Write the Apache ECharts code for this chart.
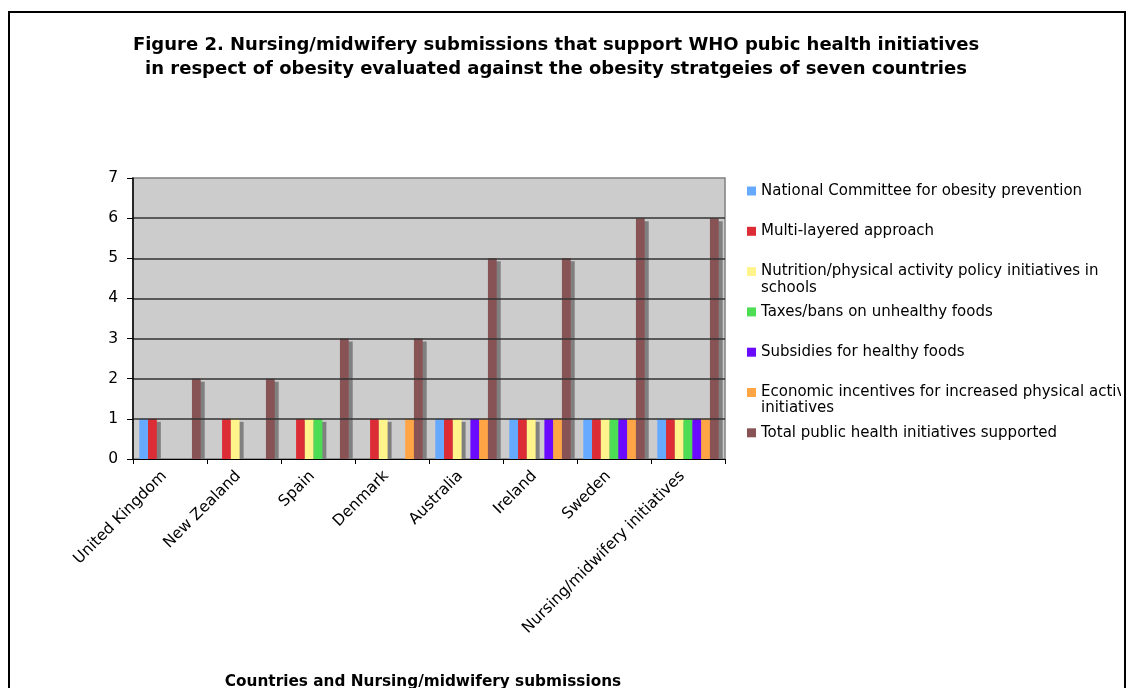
<!DOCTYPE html>
<html>
<head>
<meta charset="utf-8">
<script src="https://cdn.jsdelivr.net/npm/echarts@6/dist/echarts.min.js"></script>
<style>
  html, body { margin: 0; padding: 0; background: #ffffff; }
  #chart { width: 1127px; height: 688px; }
</style>
</head>
<body>
<div id="chart"></div>
<script>
// Categories along the x axis
const categories = ['United Kingdom', 'New Zealand', 'Spain', 'Denmark', 'Australia', 'Ireland', 'Sweden', 'Nursing/midwifery initiatives'];

// One array per strategy element (1 = present, 0 = absent)
const nationalCommittee  = [1, 0, 0, 0, 1, 1, 1, 1];
const multiLayered       = [1, 1, 1, 1, 1, 1, 1, 1];
const schoolPolicy       = [0, 1, 1, 1, 1, 1, 1, 1];
const taxesBans          = [0, 0, 1, 0, 0, 0, 1, 1];
const subsidies          = [0, 0, 0, 0, 1, 1, 1, 1];
const economicIncentives = [0, 0, 0, 1, 1, 1, 1, 1];
const totalSupported     = [2, 2, 3, 3, 5, 5, 6, 6];

const seriesNames = [
  'National Committee for obesity prevention',
  'Multi-layered approach',
  'Nutrition/physical activity policy initiatives in schools',
  'Taxes/bans on unhealthy foods',
  'Subsidies for healthy foods',
  'Economic incentives for increased physical activity initiatives',
  'Total public health initiatives supported'
];
// First legend line for the names that wrap onto a second line
const legendFirstLine = {
  'Nutrition/physical activity policy initiatives in schools': 'Nutrition/physical activity policy initiatives in',
  'Economic incentives for increased physical activity initiatives': 'Economic incentives for increased physical activity'
};
const seriesData = [nationalCommittee, multiLayered, schoolPolicy, taxesBans, subsidies, economicIncentives, totalSupported];
const seriesColors = ['#66AAFF', '#DC2D37', '#FFF38C', '#4CDD55', '#6A0AFF', '#FFA545', '#885355'];

const yTicks = [0, 1, 2, 3, 4, 5, 6, 7];

const FONT = '"DejaVu Sans", Verdana, sans-serif';

const chart = echarts.init(document.getElementById('chart'), null, { renderer: 'canvas' });

const series = seriesNames.map((name, i) => ({
  name: name,
  type: 'bar',
  data: seriesData[i],
  barGap: '0%',
  barCategoryGap: '17%',
  itemStyle: {
    color: seriesColors[i],
    shadowColor: '#808080',
    shadowBlur: 0,
    shadowOffsetX: 4,
    shadowOffsetY: 3
  },
  emphasis: { disabled: true }
}));

const option = {
  animation: false,
  backgroundColor: '#ffffff',
  textStyle: { fontFamily: FONT },
  title: [
    {
      text: 'Figure 2. Nursing/midwifery submissions that support WHO pubic health initiatives\nin respect of obesity evaluated against the obesity stratgeies of seven countries',
      left: 551,
      textAlign: 'center',
      top: 28,
      textStyle: { fontFamily: FONT, fontWeight: 'bold', fontSize: 18, lineHeight: 24, color: '#000' }
    },
    {
      text: 'Countries and Nursing/midwifery submissions',
      left: 418,
      textAlign: 'center',
      top: 670,
      textStyle: { fontFamily: FONT, fontWeight: 'bold', fontSize: 15.3, color: '#000' }
    }
  ],
  legend: {
    orient: 'vertical',
    left: 747,
    top: 183,
    padding: 0,
    itemWidth: 9,
    itemHeight: 9,
    itemGap: 24.3,
    icon: 'rect',
    selectedMode: false,
    data: seriesNames,
    formatter: name => legendFirstLine[name] || name,
    textStyle: { fontFamily: FONT, fontSize: 15, lineHeight: 16, color: '#000' },
    itemStyle: { shadowBlur: 0, shadowOffsetX: 0, shadowOffsetY: 0, shadowColor: 'transparent' }
  },
  grid: {
    left: 133,
    right: 402,
    top: 178,
    bottom: 229,
    show: true,
    backgroundColor: '#CCCCCC',
    borderColor: '#808080',
    borderWidth: 1.5,
    containLabel: false
  },
  xAxis: {
    type: 'category',
    data: categories,
    z: 10,
    axisLine: { show: true, lineStyle: { color: '#000', width: 1 } },
    axisTick: { show: true, alignWithLabel: false, length: 5, lineStyle: { color: '#000' } },
    axisLabel: { interval: 0, rotate: 45, fontSize: 15.5, color: '#000', margin: 9, padding: [0, 8, 0, 0], fontFamily: FONT },
    splitLine: { show: false }
  },
  yAxis: {
    type: 'value',
    min: yTicks[0],
    max: yTicks[yTicks.length - 1],
    interval: 1,
    z: 10,
    axisLine: { show: true, lineStyle: { color: '#000', width: 1.5 } },
    axisTick: { show: true, length: 6, lineStyle: { color: '#000' } },
    axisLabel: { fontSize: 15.5, color: '#000', margin: 15, fontFamily: FONT },
    splitLine: { show: true, showMinLine: false, showMaxLine: false, lineStyle: { color: '#333333', width: 1.5 } }
  },
  graphic: [
    // wrapped legend continuation lines
    { type: 'text', left: 761, top: 281, z: 100, style: { text: 'schools', font: '15px ' + FONT, fill: '#000' } },
    { type: 'text', left: 761, top: 401, z: 100, style: { text: 'initiatives', font: '15px ' + FONT, fill: '#000' } },
    // keeps bar shadows inside the plot area
    { type: 'rect', shape: { x: 128, y: 460, width: 610, height: 4 }, z: 5, style: { fill: '#ffffff' } },
    // legend area clips at the frame's inner edge
    { type: 'rect', shape: { x: 1121, y: 170, width: 10, height: 300 }, z: 200, style: { fill: '#ffffff' } },
    // outer frame
    { type: 'rect', shape: { x: 9, y: 12, width: 1116, height: 700 }, z: 300, style: { fill: 'none', stroke: '#000', lineWidth: 2 } }
  ],
  series: series
};

chart.setOption(option);
</script>
</body>
</html>
